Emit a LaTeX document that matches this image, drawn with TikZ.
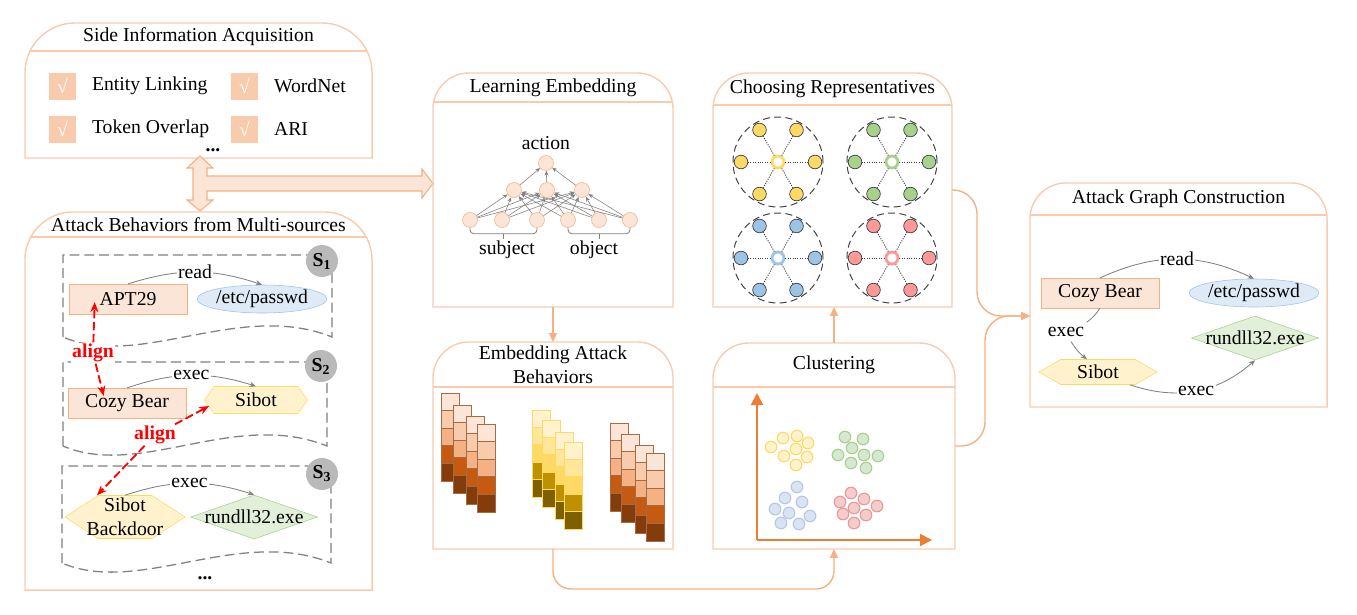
\documentclass[tikz,border=0pt]{standalone}
\usepackage{fontspec}
\setmainfont{Liberation Serif}
\usepackage{xcolor}
\usepackage{tikz}
\definecolor{frameorange}{HTML}{F8CBAD}
\definecolor{floworange}{HTML}{F4B183}
\definecolor{peach}{HTML}{FBE5D6}
\definecolor{rust}{HTML}{C55A11}
\definecolor{umber}{HTML}{843C0C}
\definecolor{barline}{HTML}{A66A45}
\definecolor{skyfill}{HTML}{DEEBF7}
\definecolor{skyline}{HTML}{9DC3E6}
\definecolor{sandfill}{HTML}{FFF2CC}
\definecolor{sandline}{HTML}{FFD966}
\definecolor{goldbar}{HTML}{FFE699}
\definecolor{ochrebar}{HTML}{BF9000}
\definecolor{darkochre}{HTML}{7F6000}
\definecolor{mintfill}{HTML}{E2F0D9}
\definecolor{mintline}{HTML}{A9D18E}
\definecolor{rosefill}{HTML}{FF9999}
\definecolor{axisorange}{HTML}{ED7D31}
\definecolor{dotgreen}{HTML}{D5E8D0}
\definecolor{dotblue}{HTML}{DAE3F3}
\definecolor{dotblueline}{HTML}{B4C7E7}
\definecolor{dotred}{HTML}{F4CCCC}
\definecolor{dotredline}{HTML}{EA9999}
\usetikzlibrary{shapes.geometric, shapes.symbols, arrows.meta, positioning, calc}

\newcommand{\figsize}{\fontsize{14}{17}\selectfont}

\newcommand{\panelframe}[4]{%
	\draw[panelline] (#1.south west) -- ([yshift=-#2]#1.north west) arc[start angle=180, end angle=90, radius=#2] -- ([xshift=-#2]#1.north east) arc[start angle=90, end angle=0, radius=#2] -- (#1.south east) -- cycle;
	\begin{scope}
		\clip (#1.south west) -- ([yshift=-#2]#1.north west) arc[start angle=180, end angle=90, radius=#2] -- ([xshift=-#2]#1.north east) arc[start angle=90, end angle=0, radius=#2] -- (#1.south east) -- cycle;
		\draw[panelline] ([yshift=-#3]#1.north west) -- ([yshift=-#3]#1.north east);
	\end{scope}
	\node[align=center] (#1-title) at ([yshift=-#3/2]#1.north) {#4};
}

\tikzset{
	panel/.style={inner sep=0pt, outer sep=0pt},
	panelline/.style={draw=frameorange, line width=1pt},
	flow/.style={draw=floworange, line width=1pt, -{Triangle[length=0.22cm, width=0.2cm]}},
	tickbox/.style={fill=frameorange, text=white, minimum size=0.675cm, inner sep=0pt},
	entity/.style={draw=floworange, fill=peach, minimum width=2.95cm, minimum height=0.74cm, inner sep=0pt},
	file/.style={draw=skyline, fill=skyfill, ellipse, minimum width=3.1cm, minimum height=0.7cm, inner sep=0pt},
	malware/.style={draw=sandline, fill=sandfill, signal, signal to=west and east, inner sep=0pt},
	proc/.style={draw=mintline, fill=mintfill, diamond, inner sep=0pt, minimum width=3.175cm, minimum height=1.1cm},
	link/.style={draw=gray, line width=0.6pt, ->},
	tag/.style={fill=white, inner sep=1pt},
	srcmark/.style={circle, fill=lightgray!90!gray, minimum size=0.8cm, inner sep=0pt, font=\figsize\bfseries},
	srcpanel/.style={draw=gray, line width=0.9pt, dash pattern=on 7pt off 3.5pt},
	alignarrow/.style={draw=red, line width=1.3pt, dash pattern=on 6pt off 2.5pt, -{Stealth[length=0.25cm, width=0.2cm]}},
	aligntag/.style={text=red, font=\figsize\bfseries, fill=white, inner sep=1pt},
	neuron/.style={circle, draw=floworange, fill=peach, minimum size=0.375cm, inner sep=0pt},
	netlink/.style={draw=gray, line width=0.4pt, -{Stealth[length=0.12cm, width=0.1cm]}},
	bracket/.style={draw=gray, line width=0.6pt, rounded corners=0.1cm},
	barcell/.style={draw=barline, line width=0.5pt},
	ring/.style={draw=darkgray, line width=0.7pt, dash pattern=on 5pt off 3pt},
	hub/.style={circle, fill=white, line width=2pt, minimum size=0.3cm, inner sep=0pt},
	spoke/.style={circle, draw=darkgray, line width=0.5pt, minimum size=0.34cm, inner sep=0pt},
	dot/.style={circle, line width=0.8pt, minimum size=0.29cm, inner sep=0pt},
	axisarrow/.style={draw=axisorange, line width=1.5pt, -{Triangle[length=0.3cm, width=0.3cm]}}
}

\begin{document}
\begin{tikzpicture}[x=0.025cm, y=0.025cm, font=\figsize, >={Stealth[length=0.16cm, width=0.13cm]}]
	\useasboundingbox (0,0) rectangle (1357,-614);
	
	\node[panel, minimum width=8.675cm, minimum height=3.375cm] (side) at (198.5,-90.5) {};
	\panelframe{side}{1.25cm}{0.7cm}{Side Information Acquisition}
	
	\node[tickbox] (tick1) at (62.5,-86) {√};
	\node[right=0.27cm of tick1] (entity) {Entity Linking};
	\node[tickbox] (tick2) at (244.5,-86) {√};
	\node[right=0.27cm of tick2] (wordnet) {WordNet};
	\node[tickbox] (tick3) at (62.5,-129) {√};
	\node[right=0.27cm of tick3] (overlap) {Token Overlap};
	\node[tickbox] (tick4) at (244.5,-129) {√};
	\node[right=0.27cm of tick4] (ari) {ARI};
	\node[font=\figsize\bfseries, inner sep=1pt] (more1) at (213,-150) {...};
	
	\draw[draw=floworange, fill=peach, line width=0.8pt] (200,-156) -- (213,-168) -- (207,-168) -- (207,-176) -- (422,-176) -- (422,-169) -- (433,-183.5) -- (422,-198) -- (422,-191) -- (207,-191) -- (207,-200) -- (213,-200) -- (200,-211) -- (187,-200) -- (193,-200) -- (193,-168) -- (187,-168) -- cycle;
	
	\node[panel, minimum width=8.675cm, minimum height=9.45cm] (attack) at (198.5,-401) {};
	\panelframe{attack}{1.2cm}{0.625cm}{Attack Behaviors from Multi-sources}
	
	\foreach \l/\t/\r/\b in {63/255/332/337, 63/362/327/446, 62/466/331/563}
		\draw[srcpanel] (\l,-\b) -- (\l,-\t) -- (\r,-\t) -- (\r,-\b) .. controls (\r-92,-\b+37) and (\l+77,-\b-33) .. (\l,-\b);
	
	\node[srcmark] (s1) at (322,-261) {S\textsubscript{1}};
	\node[srcmark] (s2) at (321,-366) {S\textsubscript{2}};
	\node[srcmark] (s3) at (322,-474) {S\textsubscript{3}};
	
	\node[entity] (apt) at (128,-299) {APT29};
	\node[file, right of=apt, xshift=2.35cm] (passwd1) {/etc/passwd};
	\draw[link] (apt.north) to[bend left=18] node[tag] {read} (passwd1.north);
	
	\node[entity] (cozy1) at (127,-403) {Cozy Bear};
	\node[malware, minimum width=2.575cm, minimum height=0.675cm, signal pointer angle=110, label={center:Sibot}] (sibot1) at (256,-400) {};
	\draw[link] (cozy1.north) to[bend left=18] node[tag] {exec} (sibot1.north);
	
	\node[malware, minimum width=3cm, minimum height=1.075cm, signal pointer angle=66, label={[align=center]center:Sibot\\Backdoor}] (sibot3) at (125,-517) {};
	\node[proc, right of=sibot3, xshift=2.225cm, label={center:rundll32.exe}] (rundll1) {};
	\draw[link] (sibot3.north) to[bend left=18] node[tag] {exec} (rundll1.north);
	
	\node[aligntag] (align1) at (93,-353) {align};
	\draw[alignarrow] (align1) -- ([xshift=0.65cm, yshift=0.3cm]apt.south west);
	\draw[alignarrow] (align1) -- ([xshift=0.9cm, yshift=-0.2cm]cozy1.north west);
	
	\node[aligntag] (align2) at (155,-435) {align};
	\draw[alignarrow] (align2) -- ([xshift=0.125cm, yshift=-0.15cm]sibot1.west);
	\draw[alignarrow] (align2) -- ([xshift=-0.7cm]sibot3.north);
	
	\node[font=\figsize\bfseries] (more2) at (205,-578) {...};
	
	\node[panel, minimum width=6cm, minimum height=5.85cm] (learn) at (553,-190) {};
	\panelframe{learn}{0.9cm}{0.725cm}{Learning Embedding}
	
	\foreach \nx [count=\i] in {470,502,537,568,599,630}
		\node[neuron] (b\i) at (\nx,-220) {};
	\foreach \nx [count=\j] in {514,547,582}
		\node[neuron] (m\j) at (\nx,-190) {};
	\node[neuron] (act) at (546,-163) {};
	\node (actlabel) at (546,-143) {action};
	\foreach \i in {1,...,6}
		\foreach \j in {1,2,3}
			\draw[netlink] (b\i) -- (m\j);
	\foreach \j in {1,2,3}
		\draw[netlink] (m\j) -- (act);
	
	\draw[bracket] (b1.south) -- ++(0,-6) -| (b3.south);
	\draw[bracket] ($(b1.south)!0.5!(b3.south)+(0,-6)$) -- ++(0,-5);
	\draw[bracket] (b4.south) -- ++(0,-6) -| (b6.south);
	\draw[bracket] ($(b4.south)!0.5!(b6.south)+(0,-6)$) -- ++(0,-5);
	\node (subj) at (507,-250) {subject};
	\node (obj) at (594,-250) {object};
	
	\node[panel, minimum width=6cm, minimum height=5.175cm] (embed) at (553,-445.5) {};
	\panelframe{embed}{0.9cm}{1.125cm}{Embedding Attack\\Behaviors}
	
	\foreach \x/\y in {441/393, 453/405, 466/416, 477/424, 610/423, 621/434, 635/445, 646/453}
		\foreach \c [count=\k from 0] in {peach,frameorange,floworange,rust,umber}
			\draw[barcell, fill=\c] (\x,-\y-17.6*\k) rectangle ++(18,-17.6);
	\foreach \x/\y in {532/410, 542/420, 555/432, 564/442}
		\foreach \c [count=\k from 0] in {sandfill,goldbar,sandline,ochrebar,darkochre}
			\draw[barcell, draw=sandline, fill=\c] (\x,-\y-17.4*\k) rectangle ++(18,-17.4);
	
	\node[panel, minimum width=5.975cm, minimum height=5.85cm] (reps) at (832.5,-190) {};
	\panelframe{reps}{0.9cm}{0.8cm}{Choosing Representatives}
	
	\foreach \cx/\cy/\tone [count=\n] in {778/162/sandline, 892/162/mintline, 778/258/skyline, 892/258/rosefill}
	{
		\draw[ring] (\cx,-\cy) circle[radius=1.125cm];
		\node[hub, draw=\tone] (hub\n) at (\cx,-\cy) {};
		\foreach \a in {0,60,...,300}
		{
			\node[spoke, fill=\tone] (spoke\n-\a) at ($(hub\n)+(\a:37)$) {};
			\draw[darkgray, densely dotted, line width=0.7pt] (hub\n) -- (spoke\n-\a);
		}
	}
	
	\node[panel, minimum width=6.05cm, minimum height=5.15cm] (clus) at (834,-446) {};
	\panelframe{clus}{0.9cm}{1.1cm}{Clustering}
	
	\coordinate (origin) at (757,-540);
	\draw[axisarrow] (origin) -- ++(0,147);
	\draw[axisarrow] (origin) -- ++(175,0);
	
	\foreach \px/\py [count=\i] in {771/447, 783/438, 797/436, 808/443, 796/449, 784/456, 807/457, 796/465}
		\node[dot, fill=sandfill, draw=sandline] (ydot\i) at (\px,-\py) {};
	\foreach \px/\py [count=\i] in {845/437, 863/439, 852/448, 838/455, 864/455, 878/456, 851/463, 866/468}
		\node[dot, fill=dotgreen, draw=mintline] (gdot\i) at (\px,-\py) {};
	\foreach \px/\py [count=\i] in {797/487, 785/498, 802/502, 775/509, 789/513, 810/516, 781/523, 799/524}
		\node[dot, fill=dotblue, draw=dotblueline] (bdot\i) at (\px,-\py) {};
	\foreach \px/\py [count=\i] in {851/493, 840/502, 864/499, 877/506, 854/508, 843/514, 866/515, 854/523}
		\node[dot, fill=dotred, draw=dotredline] (rdot\i) at (\px,-\py) {};
	
	\node[panel, minimum width=7.425cm, minimum height=5.6cm] (graph) at (1178.5,-295) {};
	\panelframe{graph}{0.9cm}{0.8cm}{Attack Graph Construction}
	
	\node[entity] (cozy2) at (1100,-293) {Cozy Bear};
	\node[file, right of=cozy2, xshift=2.85cm] (passwd2) {/etc/passwd};
	\node[proc, label={center:rundll32.exe}] (rundll2) at (1255,-338) {};
	\node[malware, minimum width=2.95cm, minimum height=0.625cm, signal pointer angle=60, label={center:Sibot}] (sibot2) at (1098,-372) {};
	\node (execlabel) at (1066,-332) {exec};
	
	\draw[link] (cozy2.north) to[bend left=25] node[tag] {read} (passwd2.north);
	
	\draw[draw=gray, line width=0.6pt] (cozy2.south) to[bend left=10] (execlabel);
	
	\draw[link] (execlabel) to[bend right=10] ([xshift=-0.275cm]sibot2.north);
	
	\draw[link] ([xshift=0.8cm]sibot2.south) to[bend right=30] node[tag] {exec} (rundll2.south);
	
	\coordinate (gin) at ([yshift=-0.525cm]graph.west);
	
	\draw[flow] (learn.south) -- (embed.north);
	
	\draw[flow, rounded corners=0.45cm] (embed.south) -- ++(0,-40) -| (clus.south);
	
	\draw[flow] (clus.north) -- (clus.north |- reps.south);
	
	\draw[flow, rounded corners=0.6cm] (reps.east) -- ++(25,0) |- (gin);
	
	\draw[flow, rounded corners=0.6cm] (clus.east) -- ++(30,0) |- (gin);
\end{tikzpicture}
\end{document}
